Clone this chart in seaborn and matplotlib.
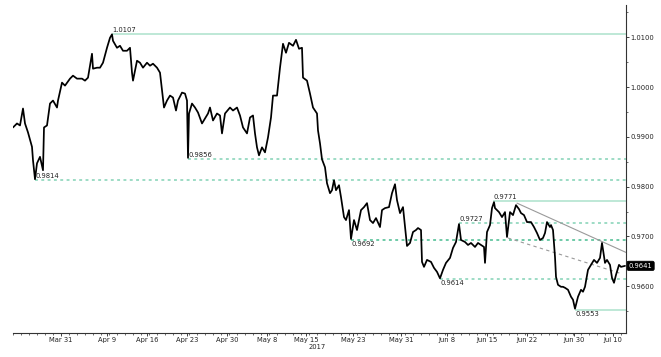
import numpy as np
import pandas as pd
import matplotlib
matplotlib.use("Agg")
import matplotlib.pyplot as plt
import seaborn as sns
from matplotlib.ticker import FixedLocator, MultipleLocator, FuncFormatter

# ---- data (3-hour bar index, price) ----
bars = [0, 4, 7, 10, 12, 15, 19, 20, 22, 24, 27, 30, 31, 34, 37, 40, 44, 45, 49, 52,
        57, 60, 64, 69, 72, 75, 79, 80, 84, 87, 90, 94, 97, 99, 100, 104, 107, 110, 114, 117,
        119, 120, 124, 127, 130, 134, 137, 140, 144, 147, 149, 151, 154, 157, 160, 163, 165, 169, 172, 174,
        175, 176, 179, 182, 185, 189, 192, 195, 197, 200, 204, 207, 209, 212, 217, 220, 224, 227, 230, 234,
        237, 240, 242, 244, 246, 249, 252, 255, 258, 260, 264, 267, 270, 273, 276, 280, 283, 286, 289, 290,
        294, 297, 300, 304, 305, 307, 309, 312, 314, 317, 319, 321, 323, 326, 328, 331, 333, 336, 338, 341,
        344, 348, 351, 354, 357, 360, 363, 367, 369, 372, 376, 379, 382, 384, 387, 390, 392, 394, 397, 400,
        403, 405, 408, 409, 411, 414, 418, 421, 424, 427, 430, 433, 437, 440, 443, 446, 448, 452, 455, 458,
        462, 465, 468, 471, 472, 474, 477, 479, 481, 482, 486, 489, 492, 494, 497, 500, 503, 506, 508, 511,
        514, 518, 521, 524, 527, 530, 532, 534, 537, 538, 540, 542, 543, 545, 548, 550, 552, 555, 558, 560,
        562, 565, 568, 570, 572, 575, 578, 581, 584, 587, 589, 592, 594, 597, 599, 601, 603, 606, 608, 612]
price = [0.9919, 0.9927, 0.9923, 0.9957, 0.9927, 0.9909, 0.9880, 0.9853, 0.9815, 0.9847,
         0.9860, 0.9833, 0.9919, 0.9923, 0.9967, 0.9973, 0.9959, 0.9973, 1.0009, 1.0003,
         1.0017, 1.0023, 1.0017, 1.0017, 1.0013, 1.0019, 1.0067, 1.0037, 1.0039, 1.0039,
         1.0049, 1.0079, 1.0099, 1.0106, 1.0093, 1.0079, 1.0083, 1.0073, 1.0073, 1.0079,
         1.0029, 1.0013, 1.0053, 1.0049, 1.0039, 1.0049, 1.0043, 1.0047, 1.0039, 1.0029,
         0.9993, 0.9959, 0.9973, 0.9983, 0.9979, 0.9953, 0.9973, 0.9989, 0.9987, 0.9973,
         0.9858, 0.9947, 0.9967, 0.9959, 0.9949, 0.9927, 0.9937, 0.9947, 0.9959, 0.9933,
         0.9947, 0.9943, 0.9907, 0.9947, 0.9959, 0.9953, 0.9959, 0.9943, 0.9919, 0.9907,
         0.9939, 0.9943, 0.9907, 0.9879, 0.9863, 0.9879, 0.9869, 0.9899, 0.9939, 0.9983,
         0.9983, 1.0039, 1.0087, 1.0069, 1.0089, 1.0083, 1.0095, 1.0077, 1.0079, 1.0019,
         1.0013, 0.9987, 0.9959, 0.9947, 0.9913, 0.9887, 0.9855, 0.9839, 0.9807, 0.9787,
         0.9793, 0.9813, 0.9793, 0.9803, 0.9779, 0.9739, 0.9733, 0.9753, 0.9695, 0.9733,
         0.9713, 0.9753, 0.9759, 0.9767, 0.9733, 0.9727, 0.9737, 0.9719, 0.9753, 0.9757,
         0.9759, 0.9787, 0.9805, 0.9773, 0.9747, 0.9759, 0.9719, 0.9681, 0.9687, 0.9709,
         0.9713, 0.9717, 0.9713, 0.9649, 0.9639, 0.9653, 0.9649, 0.9637, 0.9629, 0.9616,
         0.9633, 0.9647, 0.9657, 0.9677, 0.9689, 0.9725, 0.9693, 0.9689, 0.9683, 0.9687,
         0.9679, 0.9687, 0.9683, 0.9679, 0.9647, 0.9709, 0.9723, 0.9757, 0.9769, 0.9757,
         0.9749, 0.9739, 0.9749, 0.9699, 0.9749, 0.9743, 0.9763, 0.9755, 0.9747, 0.9743,
         0.9729, 0.9729, 0.9719, 0.9707, 0.9693, 0.9697, 0.9707, 0.9729, 0.9719, 0.9723,
         0.9713, 0.9659, 0.9619, 0.9603, 0.9599, 0.9599, 0.9597, 0.9593, 0.9579, 0.9573,
         0.9555, 0.9579, 0.9593, 0.9589, 0.9599, 0.9633, 0.9643, 0.9653, 0.9647, 0.9657,
         0.9687, 0.9647, 0.9653, 0.9643, 0.9617, 0.9607, 0.9623, 0.9643, 0.9639, 0.9641]

# support / resistance levels: value, starting bar, style, label placement
level_values = [1.0107, 0.9856, 0.9814, 0.9771, 0.9727, 0.9692, 0.9614, 0.9553]
level_start = [99, 175, 22, 480, 446, 338, 427, 562]
level_solid = [True, False, False, True, False, False, False, True]
level_above = [True, True, True, True, True, False, False, False]

# trend lines
trend_solid_x = [504, 613]
trend_solid_y = [0.9767, 0.9668]
trend_dash_x = [495, 609]
trend_dash_y = [0.9697, 0.9625]

tick_pos = [48, 94, 134, 174, 214, 254, 293, 340, 388, 434, 474, 514, 561, 600]
tick_lab = ["Mar 31", "Apr 9", "Apr 16", "Apr 23", "Apr 30", "May 8", "May 15",
            "May 23", "May 31", "Jun 8", "Jun 15", "Jun 22", "Jun 30", "Jul 10"]
year_label = "2017"
last_price = 0.9641

df = pd.DataFrame({"bar": bars, "price": price})

sns.set_style("white")
plt.rcParams["font.family"] = ["DejaVu Sans"]

fig = plt.figure(figsize=(6.61, 3.57), dpi=100)
ax = fig.add_axes([13 / 661, 1 - 333 / 357, (626 - 13) / 661, (333 - 5) / 357])

XMAX = 613
ax.set_xlim(0, XMAX)
ax.set_ylim(0.95062, 1.01649)

solid_c = "#b9e6d3"
dash_c = "#95d9c0"
for v, s, solid, above in zip(level_values, level_start, level_solid, level_above):
    if solid:
        ax.plot([s, XMAX], [v, v], color=solid_c, lw=1.3, zorder=1,
                solid_capstyle="butt")
    else:
        c = "#62c6a0" if abs(v - 0.9692) < 1e-6 else dash_c
        ax.plot([s, XMAX], [v, v], color=c, lw=1.3, dashes=(1.6, 1.9), zorder=1)
    ax.annotate(f"{v:.4f}", xy=(s, v), xytext=(0.5, 0.6 if above else -0.6),
                textcoords="offset points", ha="left",
                va="bottom" if above else "top", fontsize=4.9, color="#222222", zorder=4)

ax.plot(trend_solid_x, trend_solid_y, color="#9a9a9a", lw=0.8, zorder=2)
ax.plot(trend_dash_x, trend_dash_y, color="#9a9a9a", lw=0.8, dashes=(3, 3), zorder=2)

sns.lineplot(data=df, x="bar", y="price", ax=ax, color="black", lw=1.25, zorder=3,
             estimator=None, sort=False)

# spines / axes
for sp in ["top", "left"]:
    ax.spines[sp].set_visible(False)
for sp in ["right", "bottom"]:
    ax.spines[sp].set_visible(True)
    ax.spines[sp].set_color("#333333")
    ax.spines[sp].set_linewidth(0.8)

ax.yaxis.tick_right()
ax.yaxis.set_label_position("right")
ax.yaxis.set_major_locator(MultipleLocator(0.01))
ax.yaxis.set_minor_locator(MultipleLocator(0.005))
ax.yaxis.set_major_formatter(FuncFormatter(lambda v, p: f"{v:.4f}"))
ax.tick_params(axis="y", which="major", direction="out", length=2, width=0.6,
               labelsize=4.9, pad=1, colors="#222222", right=True, left=False)
ax.tick_params(axis="y", which="minor", direction="out", length=1.5, width=0.5,
               right=True, left=False, colors="#333333")

ax.xaxis.set_major_locator(FixedLocator(tick_pos))
ax.set_xticklabels(tick_lab)
ax.xaxis.set_minor_locator(MultipleLocator(8))
ax.tick_params(axis="x", which="major", direction="out", length=2, width=0.6,
               labelsize=4.9, pad=1, colors="#222222", bottom=True)
ax.tick_params(axis="x", which="minor", direction="out", length=1.5, width=0.5,
               bottom=True, colors="#333333")
ax.set_xlabel("")
ax.set_ylabel("")
ax.grid(False)

ax.annotate(year_label, xy=(304, 0), xycoords=("data", "axes fraction"),
            xytext=(0, -8.2), textcoords="offset points", ha="center", va="top",
            fontsize=4.9, color="#222222", annotation_clip=False)

ax.annotate(f"{last_price:.4f}", xy=(1, last_price), xycoords=("axes fraction", "data"),
            xytext=(2, 0), textcoords="offset points", ha="left", va="center",
            fontsize=4.9, color="white", annotation_clip=False,
            bbox=dict(boxstyle="round,pad=0.25", fc="black", ec="black", lw=0.5))

fig.savefig("out.png", dpi=100)
